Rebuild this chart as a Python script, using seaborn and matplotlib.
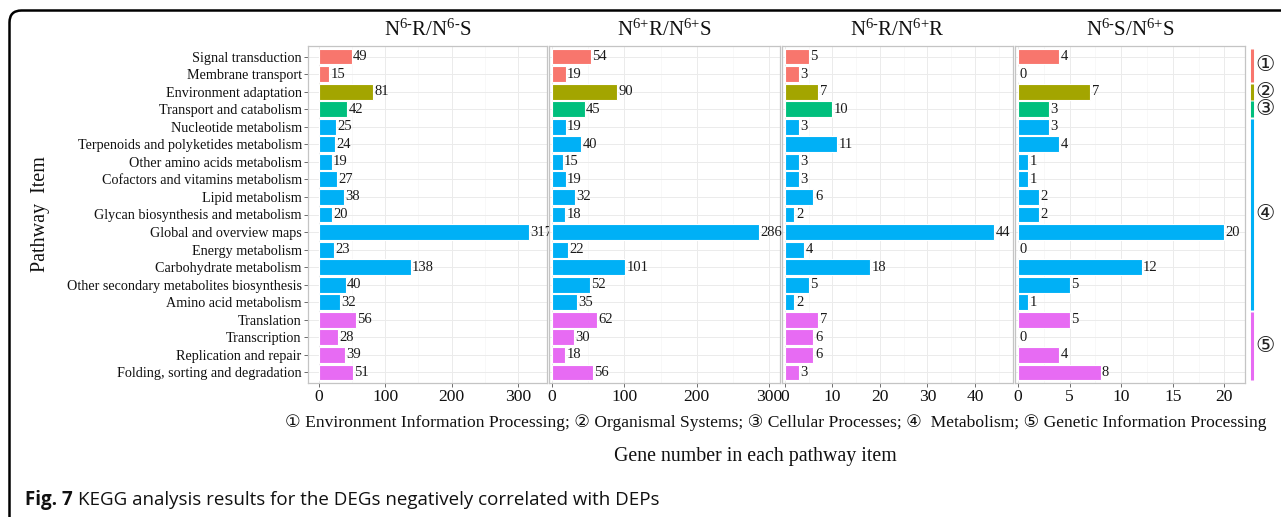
import matplotlib
matplotlib.use("Agg")
import matplotlib.pyplot as plt
import seaborn as sns
import pandas as pd
from matplotlib.patches import FancyBboxPatch
from matplotlib.ticker import MultipleLocator

# ---------------- data ----------------
items = ["Signal transduction", "Membrane transport", "Environment adaptation",
         "Transport and catabolism", "Nucleotide metabolism",
         "Terpenoids and polyketides metabolism", "Other amino acids metabolism",
         "Cofactors and vitamins metabolism", "Lipid metabolism",
         "Glycan biosynthesis and metabolism", "Global and overview maps",
         "Energy metabolism", "Carbohydrate metabolism",
         "Other secondary metabolites biosynthesis", "Amino acid metabolism",
         "Translation", "Transcription", "Replication and repair",
         "Folding, sorting and degradation"]
groups = ["①", "①", "②", "③"] + ["④"] * 11 + ["⑤"] * 4
group_names = ["① Environment Information Processing", "② Organismal Systems",
               "③ Cellular Processes", "④  Metabolism", "⑤ Genetic Information Processing"]
panel_titles = [r"N$^{6\text{-}}$R/N$^{6\text{-}}$S",
                r"N$^{6{+}}$R/N$^{6{+}}$S",
                r"N$^{6\text{-}}$R/N$^{6{+}}$R",
                r"N$^{6\text{-}}$S/N$^{6{+}}$S"]
vals_1 = [49, 15, 81, 42, 25, 24, 19, 27, 38, 20, 317, 23, 138, 40, 32, 56, 28, 39, 51]
vals_2 = [54, 19, 90, 45, 19, 40, 15, 19, 32, 18, 286, 22, 101, 52, 35, 62, 30, 18, 56]
vals_3 = [5, 3, 7, 10, 3, 11, 3, 3, 6, 2, 44, 4, 18, 5, 2, 7, 6, 6, 3]
vals_4 = [4, 0, 7, 3, 3, 4, 1, 1, 2, 2, 20, 0, 12, 5, 1, 5, 0, 4, 8]
all_vals = [vals_1, vals_2, vals_3, vals_4]
xticks = [[0, 100, 200, 300], [0, 100, 200, 300], [0, 10, 20, 30, 40], [0, 5, 10, 15, 20]]
caption_bold = "Fig. 7"
caption_rest = "KEGG analysis results for the DEGs negatively correlated with DEPs"
xlabel = "Gene number in each pathway item"
ylabel = "Pathway  Item"

palette = {"①": "#F8766D", "②": "#A3A500", "③": "#00BF7D", "④": "#00B0F6", "⑤": "#E76BF3"}

# ---------------- style ----------------
sns.set_theme(style="white")
plt.rcParams["font.family"] = ["Liberation Serif", "DejaVu Sans"]
plt.rcParams["mathtext.fontset"] = "custom"
plt.rcParams["mathtext.rm"] = "Liberation Serif"
plt.rcParams["mathtext.it"] = "Liberation Serif"
plt.rcParams["mathtext.default"] = "regular"

W, H = 1281, 517
fig = plt.figure(figsize=(W / 100, H / 100), dpi=100)
fig.patch.set_facecolor("white")

def fx(px):
    return px / W

def fy(py):
    return 1 - py / H

top_px, bot_px = 46, 383
panels_px = [(308, 547), (549, 780), (782, 1013), (1015, 1245)]
xlims = [(-16.7, 344), (-4.1, 315), (-0.63, 48.0), (-0.29, 22.0)]

for i, (vals, (l, r)) in enumerate(zip(all_vals, panels_px)):
    ax = fig.add_axes([fx(l), fy(bot_px), fx(r - l), (bot_px - top_px) / H])
    df = pd.DataFrame({"item": items, "value": vals, "group": groups})
    sns.barplot(data=df, x="value", y="item", hue="group", order=items,
                hue_order=list(palette.keys()), palette=palette, dodge=False,
                orient="h", width=0.9, edgecolor="white", linewidth=0.8,
                saturation=1, legend=False, ax=ax, errorbar=None)
    for c in ax.containers:
        ax.bar_label(c, fmt="%d", padding=1, fontsize=10.5, color="#1a1a1a")
    ax.set_xlim(*xlims[i])
    ax.set_ylim(18.6, -0.6)
    ax.set_xticks(xticks[i])
    ax.xaxis.set_minor_locator(MultipleLocator((xticks[i][1] - xticks[i][0]) / 2))
    ax.grid(which="major", axis="both", color="#EBEBEB", lw=0.7)
    ax.grid(which="minor", axis="x", color="#F3F3F3", lw=0.4)
    ax.set_axisbelow(True)
    for s in ax.spines.values():
        s.set_color("#C4C4C4")
        s.set_linewidth(0.9)
    ax.tick_params(axis="x", which="major", length=3, width=0.6, color="#555555",
                   labelsize=12.6, pad=1.5, labelcolor="#111111", bottom=True)
    ax.tick_params(axis="x", which="minor", length=0)
    ax.set_xlabel("")
    ax.set_ylabel("")
    if i == 0:
        ax.tick_params(axis="y", length=3, width=0.6, color="#555555",
                       labelsize=10.2, pad=1.5, labelcolor="#111111", left=True)
    else:
        ax.tick_params(axis="y", left=False, labelleft=False)
    fig.text(fx((l + r) / 2), fy(30), panel_titles[i], ha="center", va="center",
             fontsize=15, color="#111111")

# category side strip
sax = fig.add_axes([fx(1246), fy(bot_px), fx(35), (bot_px - top_px) / H])
sax.set_ylim(18.6, -0.6)
sax.set_xlim(0, 1)
sax.axis("off")
for g in palette:
    idx = [k for k, gg in enumerate(groups) if gg == g]
    y0, y1 = min(idx) - 0.45, max(idx) + 0.45
    sax.plot([0.17, 0.17], [y0, y1], color=palette[g], lw=2.2, solid_capstyle="butt")
    sax.text(0.55, (y0 + y1) / 2, g, ha="center", va="center", fontsize=15.5,
             color="#222222", family=["DejaVu Sans"])

# legend line, axis labels
fig.text(fx(776), fy(423), "; ".join(group_names), ha="center", va="center",
         fontsize=12.6, color="#111111", family=["Liberation Serif", "DejaVu Sans"])
fig.text(fx(755), fy(457), xlabel, ha="center", va="center", fontsize=14.3, color="#111111")
fig.text(fx(40), fy(214), ylabel, ha="center", va="center", rotation=90,
         fontsize=14.5, color="#111111")

# caption
t1 = fig.text(fx(25), fy(500), caption_bold, ha="left", va="center", fontsize=13.5,
              fontweight="bold", family="Open Sans", color="#111111")
fig.canvas.draw()
bb = t1.get_window_extent(fig.canvas.get_renderer())
fig.text(bb.x1 / W + fx(5), fy(500), caption_rest, ha="left", va="center",
         fontsize=13.5, family="Open Sans", color="#111111")

# frame with rounded top-left corner
frame = FancyBboxPatch((0.095, -0.5), 14.0, (H - 10.5) / 100 + 0.5,
                       boxstyle="round,pad=0,rounding_size=0.12",
                       transform=fig.dpi_scale_trans, fill=False,
                       edgecolor="black", lw=1.8)
fig.add_artist(frame)

fig.savefig("out.png", dpi=100)
